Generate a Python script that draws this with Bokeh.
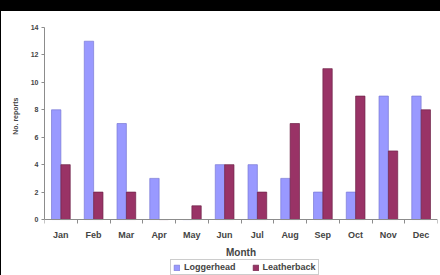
from bokeh.plotting import figure
from bokeh.models import (Range1d, FixedTicker, Legend, LegendItem, ColumnDataSource,
                          InlineStyleSheet, Title)
from bokeh.transform import dodge
from bokeh.embed import file_html
from bokeh.resources import INLINE

months = ["Jan", "Feb", "Mar", "Apr", "May", "Jun", "Jul", "Aug", "Sep", "Oct", "Nov", "Dec"]
loggerhead = [8, 13, 7, 3, 0, 4, 4, 3, 2, 2, 9, 9]
leatherback = [4, 2, 2, 0, 1, 4, 2, 7, 11, 9, 5, 8]
y_ticks = [0, 2, 4, 6, 8, 10, 12, 14]

centers = [i + 0.5 for i in range(len(months))]
source = ColumnDataSource(dict(x=centers, month=months, loggerhead=loggerhead, leatherback=leatherback))

FONT = "Liberation Sans"
GREY = "#8c8c8c"

# frame runs to the bottom edge; the x axis is pinned at y = 0 so the
# legend can sit inside the frame below the axis
p = figure(width=440, height=275, output_backend="svg", toolbar_location=None,
           x_range=Range1d(0, len(months)), y_range=Range1d(-4.08, 14),
           min_border_left=44, min_border_right=3, min_border_top=27, min_border_bottom=0)
p.outline_line_color = None
p.grid.visible = False
p.background_fill_color = "white"
p.border_fill_color = "white"

# black scan edges of the reference (top band and thin left strip)
p.stylesheets = [InlineStyleSheet(css=(
    ":host::before { content: ''; position: absolute; left: 0; top: 0; width: 440px; "
    "height: 11px; background: black; z-index: 100; pointer-events: none; }"
    ":host::after { content: ''; position: absolute; left: 0; top: 0; width: 1px; "
    "height: 275px; background: black; z-index: 100; pointer-events: none; }"
))]

bw = 1 / 3.5
r1 = p.vbar(x=dodge("x", -bw / 2), top="loggerhead", width=bw, source=source,
            fill_color="#9999FF", line_color="#7a7ad6", line_width=0.7)
r2 = p.vbar(x=dodge("x", bw / 2), top="leatherback", width=bw, source=source,
            fill_color="#993366", line_color="#6e2247", line_width=0.7)

# x axis: labels at category centres, ticks at category boundaries
xa = p.xaxis[0]
xa.fixed_location = 0
xa.ticker = FixedTicker(ticks=centers, minor_ticks=list(range(len(months) + 1)))
xa.major_label_overrides = {c: m for c, m in zip(centers, months)}
xa.major_tick_out = 0
xa.major_tick_in = 0
xa.minor_tick_out = 4
xa.minor_tick_in = 0
xa.minor_tick_line_color = GREY
xa.axis_line_color = GREY
xa.major_label_standoff = 6
xa.major_label_text_font = FONT
xa.major_label_text_font_style = "bold"
xa.major_label_text_font_size = "9px"
xa.axis_label = "Month"
xa.axis_label_text_font = FONT
xa.axis_label_text_font_style = "bold"
xa.axis_label_text_font_size = "10px"
xa.axis_label_standoff = 4

ya = p.yaxis[0]
ya.bounds = (0, 14)
ya.ticker = FixedTicker(ticks=y_ticks)
ya.major_tick_out = 3
ya.major_tick_in = 0
ya.minor_tick_out = 0
ya.minor_tick_in = 0
ya.major_tick_line_color = GREY
ya.axis_line_color = GREY
ya.major_label_standoff = 3
ya.major_label_text_font = FONT
ya.major_label_text_font_style = "bold"
ya.major_label_text_font_size = "7px"

# y axis title, centred on the 0-14 span of the axis
ytitle = Title(text="No. reports", align="right", offset=70, vertical_align="middle",
               text_font=FONT, text_font_style="bold", text_font_size="7px", standoff=16)
p.add_layout(ytitle, "left")

legend = Legend(items=[LegendItem(label="Loggerhead", renderers=[r1]),
                       LegendItem(label="Leatherback", renderers=[r2])],
                orientation="horizontal", location=(126, 0))
legend.label_text_font = FONT
legend.label_text_font_style = "bold"
legend.label_text_font_size = "9px"
legend.glyph_width = 7
legend.glyph_height = 7
legend.label_height = 9
legend.label_standoff = 4
legend.spacing = 16
legend.padding = 2
legend.margin = 0
legend.border_line_color = "#999999"
legend.background_fill_alpha = 1
p.add_layout(legend)

open("out.html", "w").write(file_html(p, INLINE))
